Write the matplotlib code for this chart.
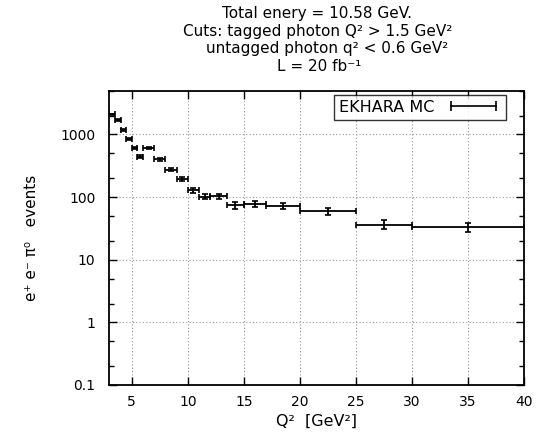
import numpy as np
import matplotlib
matplotlib.use("Agg")
import matplotlib.pyplot as plt
from matplotlib.lines import Line2D
from matplotlib.ticker import LogLocator, FixedLocator, NullFormatter

plt.rcParams['font.family'] = ['DejaVu Sans']

# Q^2 bins [GeV^2] and event counts
bin_lo = [3.0, 3.5, 4.0, 4.5, 5.0, 5.5, 6.0, 7.0, 8.0, 9.0, 10.0, 11.0, 12.0, 13.5, 15.0, 17.0, 20.0, 25.0, 30.0]
bin_hi = [3.5, 4.0, 4.5, 5.0, 5.5, 6.0, 7.0, 8.0, 9.0, 10.0, 11.0, 12.0, 13.5, 15.0, 17.0, 20.0, 25.0, 30.0, 40.0]
events = [2100, 1700, 1170, 840, 600, 444, 600, 400, 276, 195, 128, 102, 104, 74, 78, 72, 59, 36.5, 33.5]
events_err = [46, 41, 34, 29, 24, 21, 24, 20, 17, 14, 11, 10, 10, 8.6, 8.8, 8.5, 7.7, 6.0, 5.8]

x_ticks = [5, 10, 15, 20, 25, 30, 35, 40]
y_ticks = [0.1, 1, 10, 100, 1000]
y_tick_labels = ['0.1', '1', '10', '100', '1000']

lo = np.array(bin_lo)
hi = np.array(bin_hi)
xc = 0.5 * (lo + hi)
xe = 0.5 * (hi - lo)

fig = plt.figure(figsize=(5.39, 4.41), dpi=100)
ax = fig.add_axes([0.2028, 0.127, 0.7694, 0.6673])

ax.errorbar(xc, events, xerr=xe, yerr=events_err, fmt='none', ecolor='black',
            elinewidth=1.3, capsize=2.4, capthick=1.2)

ax.set_yscale('log')
ax.set_xlim(3, 40)
ax.set_ylim(0.1, 5000)

ax.xaxis.set_major_locator(FixedLocator(x_ticks))
ax.set_xticklabels([str(t) for t in x_ticks])
ax.yaxis.set_major_locator(FixedLocator(y_ticks))
ax.set_yticklabels(y_tick_labels)
ax.yaxis.set_minor_locator(LogLocator(base=10, subs=(2, 5)))
ax.yaxis.set_minor_formatter(NullFormatter())

ax.tick_params(which='both', direction='in', top=True, right=True, labelsize=10, width=1)
ax.tick_params(which='major', length=6)
ax.tick_params(axis='x', which='major', pad=7)
ax.tick_params(axis='y', which='major', pad=10)
ax.tick_params(which='minor', length=3.5)
ax.grid(True, which='major', color='#999999', linestyle=(0, (1, 2)), linewidth=0.8)

for s in ax.spines.values():
    s.set_linewidth(1.3)

ax.set_xlabel('Q²  [GeV²]', fontsize=11.5, labelpad=4)
ax.set_ylabel('e⁺ e⁻ π⁰   events', fontsize=11, labelpad=15)

# legend sample: horizontal bar with end caps
handle = Line2D([0, 1], [0, 0], color='black', lw=1.2, marker='|', markersize=7, markeredgewidth=1.2)
leg = ax.legend([handle], ['EKHARA MC'], loc='upper right', bbox_to_anchor=(0.956, 0.985),
                numpoints=2, markerfirst=False, fancybox=False, edgecolor='black', fontsize=11.5,
                handlelength=3.4, borderpad=0.3, handletextpad=0.8, borderaxespad=0.0)
leg.get_frame().set_linewidth(1.0)

fig.text(0.5890, 0.9592, 'Total enery = 10.58 GeV.', ha='center', va='baseline', fontsize=11)
fig.text(0.5890, 0.9184, 'Cuts: tagged photon Q² > 1.5 GeV²', ha='center', va='baseline', fontsize=11)
fig.text(0.6076, 0.8798, 'untagged photon q² < 0.6 GeV²', ha='center', va='baseline', fontsize=11)
fig.text(0.5918, 0.8390, 'L = 20 fb⁻¹', ha='center', va='baseline', fontsize=11)

fig.savefig('out.png', dpi=100)
